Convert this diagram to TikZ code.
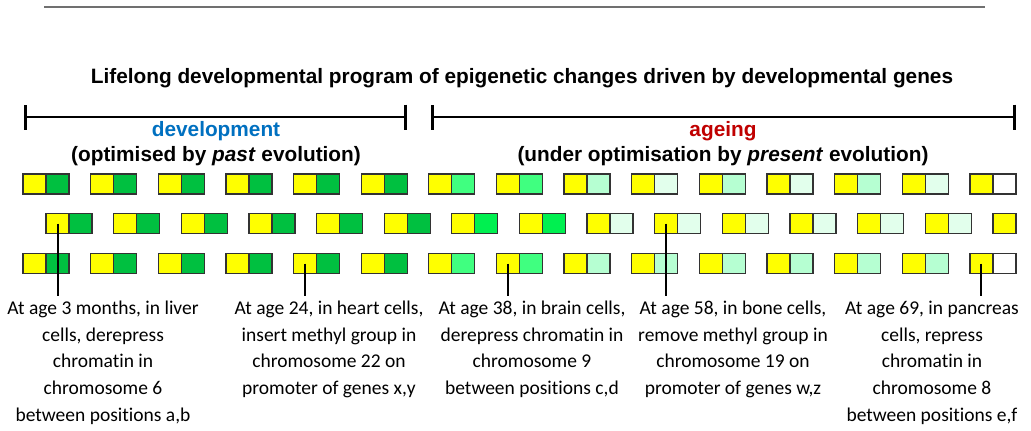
\documentclass[tikz,border=0pt]{standalone}
\usepackage{fontspec}
\setmainfont{Carlito}[Ligatures=NoCommon]
\newfontfamily\arialfont{Liberation Sans}
\usetikzlibrary{positioning,arrows.meta}

\definecolor{cellyellow}{RGB}{255,255,0}
\definecolor{gdark}{RGB}{0,192,64}
\definecolor{gbright}{RGB}{0,240,80}
\definecolor{gmid}{RGB}{64,255,128}
\definecolor{glight}{RGB}{182,255,210}
\definecolor{gpale}{RGB}{226,255,236}
\definecolor{devblue}{RGB}{0,112,192}
\definecolor{agered}{RGB}{192,0,0}
\definecolor{rulegray}{RGB}{112,112,112}

\tikzset{
    cell/.style={draw=black!80, line width=1.3pt, minimum width=23pt, minimum height=20pt,
        inner sep=0pt, outer sep=0pt, anchor=north west},
    span/.style={line width=2pt, {Bar[width=25pt,line width=3pt]}-{Bar[width=25pt,line width=3pt]}},
    conn/.style={line width=2pt},
    note/.style={font=\fontsize{19.5}{26.7}\selectfont, align=center, anchor=north,
        inner sep=0pt, outer sep=5pt},
    head/.style={font=\arialfont\bfseries\fontsize{20.8}{25}\selectfont, anchor=base, inner sep=0pt}
}

\begin{document}
\begin{tikzpicture}[x=1pt, y=-1pt]
    \useasboundingbox (0,0) rectangle (1031,431);

    % Rule at the top
    \coordinate (ruleL) at (44,6.5);
    \coordinate (ruleR) at (985,6.5);
    \draw[rulegray, line width=2pt] (ruleL) -- (ruleR);

    % Title and the two life spans
    \node[head] (title) at (522,83) {Lifelong developmental program of epigenetic changes driven by developmental genes};

    \coordinate (devL) at (24,117);
    \coordinate (devR) at (407,117);
    \coordinate (ageL) at (431,117);
    \coordinate (ageR) at (1016,117);
    \draw[span] (devL) -- (devR);
    \draw[span] (ageL) -- (ageR);

    \node[head, devblue] (dev) at (216,136) {development};
    \node[head] (devsub) at (216,161) {(optimised by \textit{past} evolution)};
    \node[head, agered] (age) at (723,136) {ageing};
    \node[head] (agesub) at (723,161) {(under optimisation by \textit{present} evolution)};

    % Top row of cells
    \foreach \col [count=\i from 0] in {gdark,gdark,gdark,gdark,gdark,gdark,gmid,gmid,glight,gpale,glight,gpale,glight,gpale,white} {
        \node[cell, fill=cellyellow] (up\i) at ({23+67.64*\i},174) {};
        \node[cell, fill=\col, right=0pt of up\i] (up\i g) {};
    }

    % Middle row of cells, shifted by half a cell
    \foreach \col [count=\i from 0] in {gdark,gdark,gdark,gdark,gdark,gdark,gbright,gbright,gpale,gpale,gpale,gpale,gpale,gpale} {
        \node[cell, fill=cellyellow] (mid\i) at ({46+67.64*\i},213.5) {};
        \node[cell, fill=\col, right=0pt of mid\i] (mid\i g) {};
    }
    \node[cell, fill=cellyellow] (mid14) at ({46+67.64*14},213.5) {};

    % Bottom row of cells
    \foreach \col [count=\i from 0] in {gdark,gdark,gdark,gdark,gdark,gdark,gmid,gmid,glight,glight,glight,glight,glight,glight,white} {
        \node[cell, fill=cellyellow] (low\i) at ({23+67.64*\i},253.5) {};
        \node[cell, fill=\col, right=0pt of low\i] (low\i g) {};
    }

    % Notes on the events
    \node[note] (ev1) at (103,296) {At age 3 months, in liver\\cells, derepress\\chromatin in\\chromosome 6\\between positions a,b};
    \node[note] (ev2) at (329,296) {At age 24, in heart cells,\\insert methyl group in\\chromosome 22 on\\promoter of genes x,y};
    \node[note] (ev3) at (532,296) {At age 38, in brain cells,\\derepress chromatin in\\chromosome 9\\between positions c,d};
    \node[note] (ev4) at (733,296) {At age 58, in bone cells,\\remove methyl group in\\chromosome 19 on\\promoter of genes w,z};
    \node[note] (ev5) at (932,296) {At age 69, in pancreas\\cells, repress\\chromatin in\\chromosome 8\\between positions e,f};

    % Connectors from the cells to the notes
    \draw[conn] (mid0.center) -- (mid0.center |- ev1.north);
    \draw[conn] (low4.center) -- (low4.center |- ev2.north);
    \draw[conn] (low7.center) -- (low7.center |- ev3.north);
    \draw[conn] (mid9.center) -- (mid9.center |- ev4.north);
    \draw[conn] (low14.center) -- (low14.center |- ev5.north);
\end{tikzpicture}
\end{document}
